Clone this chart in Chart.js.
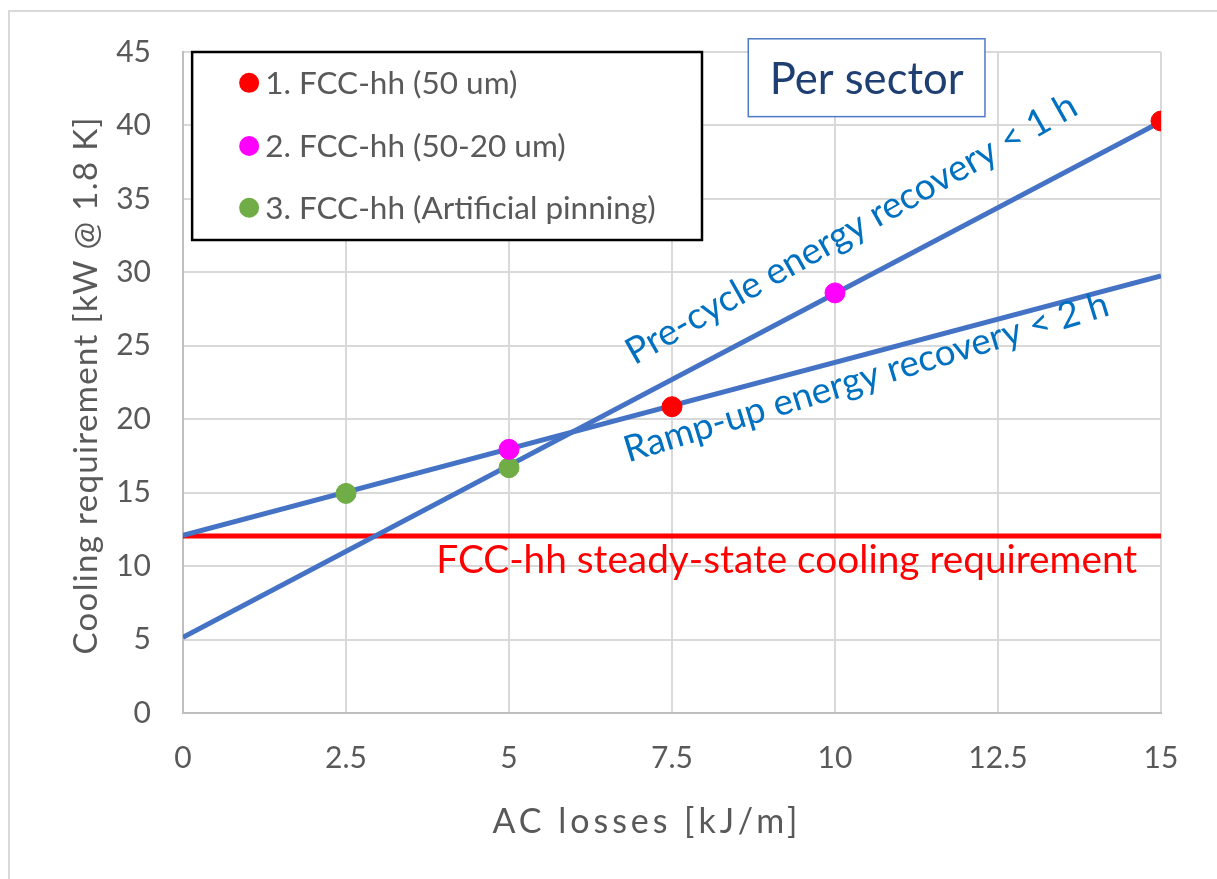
<!DOCTYPE html>
<html>
<head>
<meta charset="utf-8">
<script src="https://cdn.jsdelivr.net/npm/chart.js@4"></script>
<style>
  html, body { margin: 0; padding: 0; background: #fff; }
  #wrap { width: 1217px; height: 879px; }
</style>
</head>
<body>
<div id="wrap"><canvas id="CoolingChart" width="1217" height="879"></canvas></div>
<script>
// x range of the two fitted lines
var lineX = [0, 15];
var preCycle = [5.15, 40.25];
var rampUp = [12.1, 29.75];
var steadyState = [12.05, 12.05];

// marker series
var fcc50X = [7.5, 15];
var fcc50Y = [20.85, 40.3];
var fcc5020X = [5, 10];
var fcc5020Y = [17.95, 28.6];
var pinningX = [2.5, 5];
var pinningY = [14.95, 16.7];

var legendLabels = ['1. FCC-hh (50 um)', '2. FCC-hh (50-20 um)', '3. FCC-hh (Artificial pinning)'];
var xTicks = [0, 2.5, 5, 7.5, 10, 12.5, 15];
var xTitle = 'AC losses [kJ/m]';
var yTitle = 'Cooling requirement [kW @ 1.8 K]';

var FONT = 'Lato, Calibri, "Open Sans", sans-serif';
var GREY = '#595959';

function pts(xs, ys) {
    return xs.map(function (x, i) { return { x: x, y: ys[i] }; });
}

function fitSize(ctx, text, width) {
    ctx.font = '100px ' + FONT;
    return 100 * width / ctx.measureText(text).width;
}

// draw text at a fixed size, spreading letters to reach the wanted width
function spacedText(ctx, text, cx, cy, size, width, deg) {
    ctx.save();
    ctx.font = size + 'px ' + FONT;
    var w = ctx.measureText(text).width;
    var sp = Math.max(0, (width - w) / (text.length - 1));
    if ('letterSpacing' in ctx) ctx.letterSpacing = sp + 'px';
    ctx.translate(cx, cy);
    ctx.rotate(-deg * Math.PI / 180);
    ctx.textAlign = 'center';
    ctx.textBaseline = 'middle';
    ctx.fillStyle = GREY;
    ctx.fillText(text, sp / 2, 0);
    ctx.restore();
}

var extras = {
    id: 'extras',
    beforeDraw: function (chart) {
        var ctx = chart.ctx;
        ctx.save();
        ctx.fillStyle = '#fff';
        ctx.fillRect(0, 0, chart.width, chart.height);
        ctx.strokeStyle = '#d9d9d9';
        ctx.lineWidth = 2;
        ctx.strokeRect(9, 11, 1400, 1000);
        ctx.restore();
    },
    afterDraw: function (chart) {
        var ctx = chart.ctx;
        var xs = chart.scales.x, ys = chart.scales.y;
        ctx.save();

        // axis titles
        spacedText(ctx, xTitle, 645, 822, 34, 305, 0);
        spacedText(ctx, yTitle, 86, 386, 33, 537, 90);

        // legend box
        var lx0 = xs.getPixelForValue(0.14), lx1 = xs.getPixelForValue(7.96);
        var ly0 = ys.getPixelForValue(45), ly1 = ys.getPixelForValue(32.2);
        ctx.fillStyle = '#fff';
        ctx.fillRect(lx0, ly0, lx1 - lx0, ly1 - ly0);
        ctx.strokeStyle = '#000';
        ctx.lineWidth = 2.5;
        ctx.strokeRect(lx0, ly0, lx1 - lx0, ly1 - ly0);
        var rows = [42.9, 38.6, 34.4];
        ctx.font = '31.5px ' + FONT;
        ctx.textBaseline = 'middle';
        ctx.textAlign = 'left';
        for (var i = 0; i < 3; i++) {
            var ds = chart.data.datasets[i];
            var ry = ys.getPixelForValue(rows[i]);
            ctx.beginPath();
            ctx.arc(lx0 + 57, ry, 10, 0, Math.PI * 2);
            ctx.fillStyle = ds.backgroundColor;
            ctx.fill();
            ctx.fillStyle = GREY;
            ctx.fillText(legendLabels[i], lx0 + 73, ry + 1);
        }

        // "Per sector" box
        var bx0 = xs.getPixelForValue(8.67), bx1 = xs.getPixelForValue(12.3);
        var by0 = ys.getPixelForValue(45.9), by1 = ys.getPixelForValue(40.6);
        ctx.fillStyle = '#fff';
        ctx.fillRect(bx0, by0, bx1 - bx0, by1 - by0);
        ctx.strokeStyle = '#4f7ac7';
        ctx.lineWidth = 1.5;
        ctx.strokeRect(bx0, by0, bx1 - bx0, by1 - by0);
        ctx.fillStyle = '#1f3f73';
        ctx.font = fitSize(ctx, 'Per sector', 194) + 'px ' + FONT;
        ctx.textAlign = 'center';
        ctx.fillText('Per sector', (bx0 + bx1) / 2, (by0 + by1) / 2 + 2);

        // rotated line labels
        function label(text, xv, yv, deg, width, color) {
            ctx.save();
            ctx.translate(xs.getPixelForValue(xv), ys.getPixelForValue(yv));
            ctx.rotate(-deg * Math.PI / 180);
            ctx.font = fitSize(ctx, text, width) + 'px ' + FONT;
            ctx.fillStyle = color;
            ctx.textAlign = 'center';
            ctx.textBaseline = 'middle';
            ctx.fillText(text, 0, 0);
            ctx.restore();
        }
        label('Pre-cycle energy recovery < 1 h', 10.25, 32.95, 29.5, 512, '#0070c0');
        label('Ramp-up energy recovery < 2 h', 10.48, 22.85, 17, 505, '#0070c0');
        label('FCC-hh steady-state cooling requirement', 9.26, 10.35, 0, 701, '#ff0000');

        ctx.restore();
    }
};

var config = {
    type: 'scatter',
    data: {
        datasets: [
            { label: legendLabels[0], data: pts(fcc50X, fcc50Y), backgroundColor: '#ff0000', borderColor: '#ff0000', pointRadius: 10, order: 0 },
            { label: legendLabels[1], data: pts(fcc5020X, fcc5020Y), backgroundColor: '#ff00ff', borderColor: '#ff00ff', pointRadius: 10, order: 0 },
            { label: legendLabels[2], data: pts(pinningX, pinningY), backgroundColor: '#70ad47', borderColor: '#70ad47', pointRadius: 10, order: 0 },
            { type: 'line', label: 'Pre-cycle', data: pts(lineX, preCycle), borderColor: '#4472c4', borderWidth: 5, pointRadius: 0, order: 1 },
            { type: 'line', label: 'Ramp-up', data: pts(lineX, rampUp), borderColor: '#4472c4', borderWidth: 5, pointRadius: 0, order: 1 },
            { type: 'line', label: 'Steady state', data: pts(lineX, steadyState), borderColor: '#ff0000', borderWidth: 5, pointRadius: 0, order: 2 }
        ]
    },
    options: {
        responsive: false,
        animation: false,
        layout: { padding: { left: 0, right: 56, top: 52, bottom: 0 } },
        plugins: { legend: { display: false }, tooltip: { enabled: false } },
        scales: {
            x: {
                type: 'linear', min: 0, max: 15,
                afterFit: function (s) { s.height = 166; },
                afterBuildTicks: function (s) { s.ticks = xTicks.map(function (v) { return { value: v }; }); },
                grid: { color: '#d9d9d9', lineWidth: 2, drawTicks: false },
                border: { color: '#bfbfbf', width: 2 },
                ticks: { color: GREY, font: { family: FONT, size: 30 }, padding: 27, maxRotation: 0 }
            },
            y: {
                type: 'linear', min: 0, max: 45,
                afterFit: function (s) { s.width = 183; },
                grid: { color: '#d9d9d9', lineWidth: 2, drawTicks: false },
                border: { color: '#bfbfbf', width: 2 },
                ticks: { stepSize: 5, color: GREY, font: { family: FONT, size: 30 }, padding: 32 }
            }
        }
    },
    plugins: [extras]
};

var coolingChart = new Chart(document.getElementById('CoolingChart'), config);
</script>
</body>
</html>
